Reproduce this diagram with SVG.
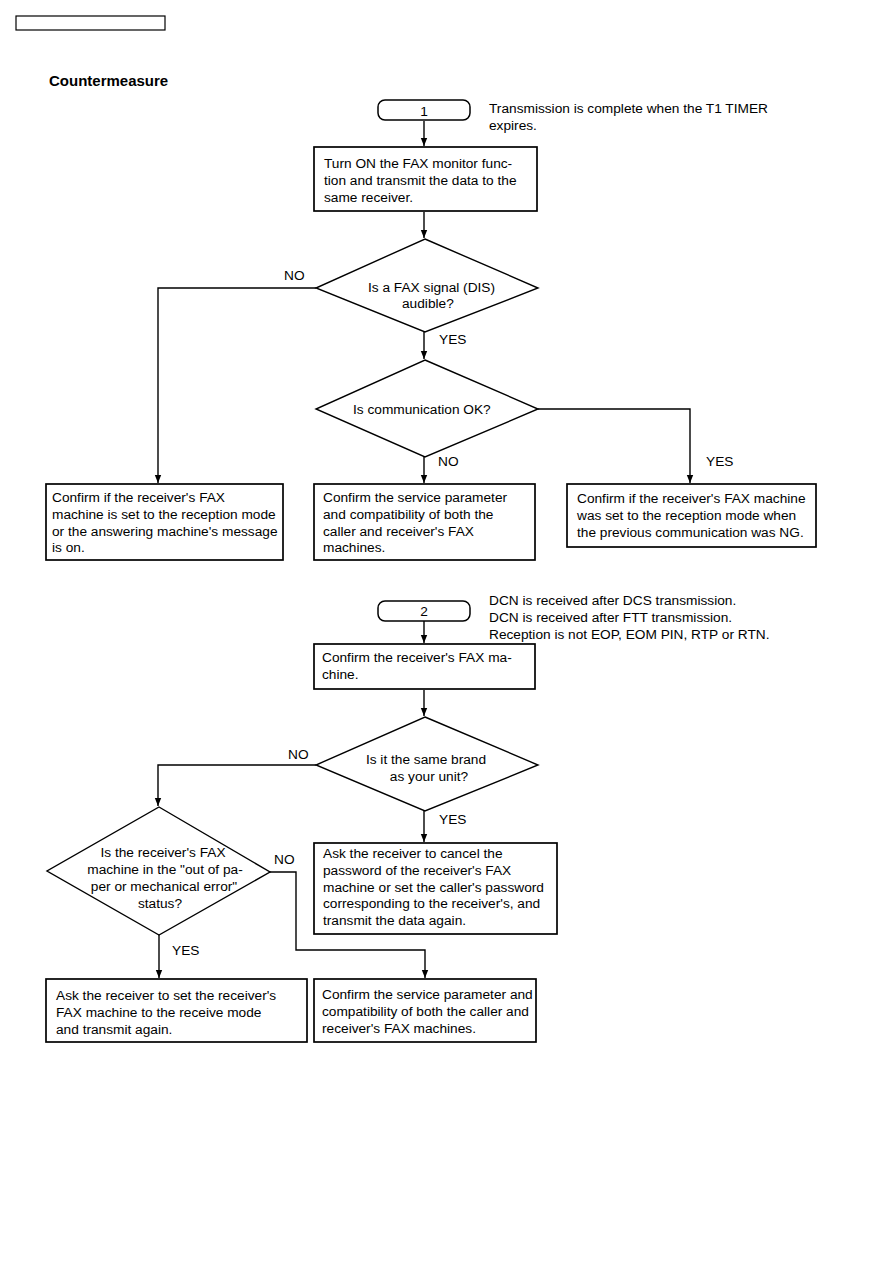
<svg xmlns="http://www.w3.org/2000/svg" width="893" height="1263" viewBox="0 0 893 1263">
<style>
text{font-family:"Liberation Sans",Arial,Helvetica,sans-serif;font-size:13.7px;fill:#000}
.h{font-weight:bold;font-size:15px}
.m{text-anchor:middle}
.box{fill:#fff;stroke:#000;stroke-width:1.7}
.term{fill:#fff;stroke:#000;stroke-width:1.5}
.dia{fill:#fff;stroke:#000;stroke-width:1.4}
.ln{fill:none;stroke:#000;stroke-width:1.4}
</style>
<defs>
<marker id="ah" viewBox="0 0 8 8" refX="8" refY="4" markerWidth="8" markerHeight="8" markerUnits="userSpaceOnUse" orient="auto">
<path d="M0,0.8 L8,4 L0,7.2 Z" fill="#000"/>
</marker>
</defs>
<rect width="893" height="1263" fill="#fff"/>
<rect x="16" y="16" width="149" height="14" fill="none" stroke="#000" stroke-width="1.2"/>
<text class="h" x="49" y="86">Countermeasure</text>

<g id="connectors">
<path class="ln" d="M424,121 V146" marker-end="url(#ah)"/>
<path class="ln" d="M424,212 V238" marker-end="url(#ah)"/>
<path class="ln" d="M316,288 H158 V483" marker-end="url(#ah)"/>
<path class="ln" d="M424,332 V359" marker-end="url(#ah)"/>
<path class="ln" d="M424,457 V483" marker-end="url(#ah)"/>
<path class="ln" d="M538,409 H690 V483" marker-end="url(#ah)"/>
<path class="ln" d="M424,621 V643" marker-end="url(#ah)"/>
<path class="ln" d="M424,690 V716" marker-end="url(#ah)"/>
<path class="ln" d="M316,765 H158 V806" marker-end="url(#ah)"/>
<path class="ln" d="M424,811 V842" marker-end="url(#ah)"/>
<path class="ln" d="M270,872 H296 V950 H425 V978" marker-end="url(#ah)"/>
<path class="ln" d="M159,935 V978" marker-end="url(#ah)"/>
</g>

<g id="start1">
<rect class="term" x="378" y="100" width="92" height="20" rx="7"/>
<text class="m" x="424" y="116">1</text>
</g>
<g id="note1">
<text x="489" y="113">Transmission is complete when the T1 TIMER</text>
<text x="489" y="130">expires.</text>
</g>
<g id="box-monitor">
<rect class="box" x="314" y="147" width="223" height="64"/>
<text x="324" y="167.5">Turn ON the FAX monitor func-</text>
<text x="324" y="184.5">tion and transmit the data to the</text>
<text x="324" y="201.5">same receiver.</text>
</g>
<g id="dec-dis">
<polygon class="dia" points="425,239 538,288 425,332 316,288"/>
<text x="368" y="291.5">Is a FAX signal (DIS)</text>
<text x="402" y="307.5">audible?</text>
</g>
<g id="dec-comm">
<polygon class="dia" points="425,360 538,409 425,457 316,409"/>
<text x="353" y="414">Is communication OK?</text>
</g>
<g id="labels1">
<text x="284" y="280">NO</text>
<text x="439" y="344">YES</text>
<text x="438" y="466">NO</text>
<text x="706" y="466">YES</text>
</g>
<g id="box-recmode">
<rect class="box" x="46" y="484" width="237" height="76"/>
<text x="52" y="502">Confirm if the receiver's FAX</text>
<text x="52" y="518.8">machine is set to the reception mode</text>
<text x="52" y="535.6">or the answering machine's message</text>
<text x="52" y="552.4">is on.</text>
</g>
<g id="box-service1">
<rect class="box" x="314" y="484" width="221" height="76"/>
<text x="323" y="502">Confirm the service parameter</text>
<text x="323" y="518.8">and compatibility of both the</text>
<text x="323" y="535.6">caller and receiver's FAX</text>
<text x="323" y="552.4">machines.</text>
</g>
<g id="box-previous">
<rect class="box" x="567" y="484" width="249" height="63"/>
<text x="577" y="503">Confirm if the receiver's FAX machine</text>
<text x="577" y="519.8">was set to the reception mode when</text>
<text x="577" y="536.6">the previous communication was NG.</text>
</g>

<g id="start2">
<rect class="term" x="378" y="601" width="92" height="20" rx="7"/>
<text class="m" x="424" y="616">2</text>
</g>
<g id="note2">
<text x="489" y="605">DCN is received after DCS transmission.</text>
<text x="489" y="622">DCN is received after FTT transmission.</text>
<text x="489" y="639">Reception is not EOP, EOM PIN, RTP or RTN.</text>
</g>
<g id="box-confirm">
<rect class="box" x="314" y="644" width="221" height="45"/>
<text x="322" y="662">Confirm the receiver's FAX ma-</text>
<text x="322" y="679">chine.</text>
</g>
<g id="dec-brand">
<polygon class="dia" points="425,717 538,765 425,811 316,765"/>
<text class="m" x="426" y="764">Is it the same brand</text>
<text class="m" x="429" y="781">as your unit?</text>
</g>
<g id="dec-paper">
<polygon class="dia" points="159,807 270,872 159,935 47,871"/>
<text class="m" x="163" y="857">Is the receiver's FAX</text>
<text class="m" x="165" y="874">machine in the "out of pa-</text>
<text class="m" x="164" y="891">per or mechanical error"</text>
<text class="m" x="160" y="908">status?</text>
</g>
<g id="labels2">
<text x="288" y="759">NO</text>
<text x="439" y="824">YES</text>
<text x="274" y="864">NO</text>
<text x="172" y="955">YES</text>
</g>
<g id="box-password">
<rect class="box" x="314" y="843" width="243" height="91"/>
<text x="323" y="858">Ask the receiver to cancel the</text>
<text x="323" y="874.8">password of the receiver's FAX</text>
<text x="323" y="891.6">machine or set the caller's password</text>
<text x="323" y="908.4">corresponding to the receiver's, and</text>
<text x="323" y="925.2">transmit the data again.</text>
</g>
<g id="box-setmode">
<rect class="box" x="46" y="979" width="261" height="63"/>
<text x="56" y="1000">Ask the receiver to set the receiver's</text>
<text x="56" y="1016.8">FAX machine to the receive mode</text>
<text x="56" y="1033.6">and transmit again.</text>
</g>
<g id="box-service2">
<rect class="box" x="314" y="979" width="222" height="63"/>
<text x="322" y="999">Confirm the service parameter and</text>
<text x="322" y="1015.8">compatibility of both the caller and</text>
<text x="322" y="1032.6">receiver's FAX machines.</text>
</g>
</svg>
